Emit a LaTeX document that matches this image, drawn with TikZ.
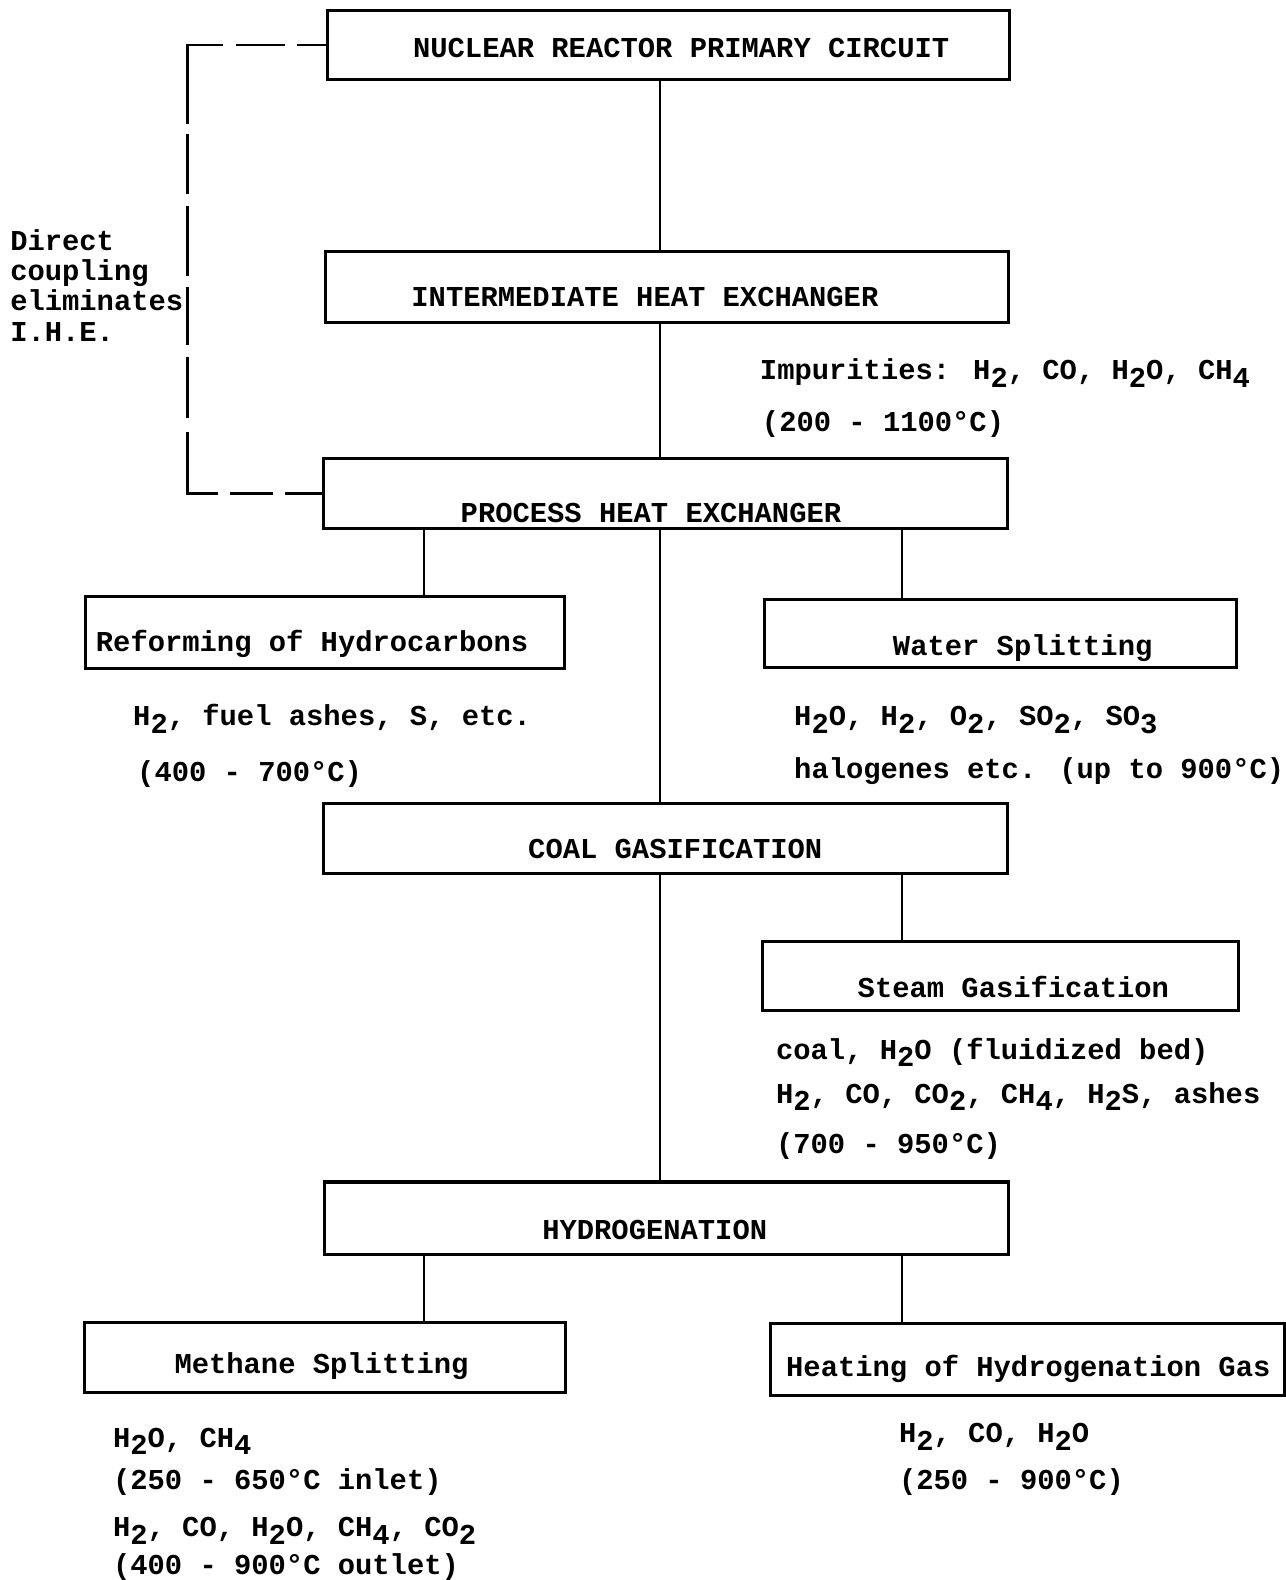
\documentclass[tikz,border=0pt]{standalone}
\usepackage{fontspec}
\setmainfont{Liberation Mono}
\newcommand{\dn}[1]{\raisebox{-0.26em}{#1}}
\begin{document}
\begin{tikzpicture}[x=1pt,y=-1pt,
  box/.style={draw,line width=3pt,inner sep=0pt},
  conn/.style={line width=2.2pt},
  dashline/.style={line width=2.6pt},
  txt/.style={inner sep=0pt,font=\fontsize{28.6}{30}\selectfont\bfseries},
]
\useasboundingbox (0,0) rectangle (1276,1568);
% boxes
\node[box,minimum width=677pt,minimum height=69pt] (nrpc) at (663.5,44.5) {};
\node[box,minimum width=678pt,minimum height=70pt] (ihe) at (662,285) {};
\node[box,minimum width=679pt,minimum height=69pt] (phe) at (660.5,489.5) {};
\node[box,minimum width=475pt,minimum height=71pt] (ref) at (322.5,627.5) {};
\node[box,minimum width=468pt,minimum height=67pt] (ws) at (993,628.5) {};
\node[box,minimum width=679pt,minimum height=70pt] (coal) at (660.5,832) {};
\node[box,minimum width=472pt,minimum height=69pt] (steam) at (993,968.5) {};
\node[box,minimum width=679pt,minimum height=72pt] (hyd) at (661.5,1209) {};
\node[box,minimum width=477pt,minimum height=70pt] (meth) at (322.5,1347) {};
\node[box,minimum width=510pt,minimum height=72pt] (heat) at (1020,1349) {};
% box titles
\node[txt,anchor=base] (tnrpc) at (676,57) {NUCLEAR REACTOR PRIMARY CIRCUIT};
\node[txt,anchor=base] (tihe) at (640,304) {INTERMEDIATE HEAT EXCHANGER};
\node[txt,anchor=base] (tphe) at (646,519) {PROCESS HEAT EXCHANGER};
\node[txt,anchor=base west] (tref) at (95,647) {Reforming of Hydrocarbons};
\node[txt,anchor=base west] (tws) at (886,651) {Water Splitting};
\node[txt,anchor=base west] (tcoal) at (524,852) {COAL GASIFICATION};
\node[txt,anchor=base west] (tsteam) at (851,990) {Steam Gasification};
\node[txt,anchor=base west] (thyd) at (538,1230) {HYDROGENATION};
\node[txt,anchor=base west] (tmeth) at (173,1363) {Methane Splitting};
\node[txt,anchor=base west] (theat) at (780,1366) {Heating of Hydrogenation Gas};
% connectors
\coordinate (cx) at (655,0);
\coordinate (lx) at (421,0);
\coordinate (rx) at (895,0);
\coordinate (dcx) at (186,0);
\draw[conn] (cx |- nrpc.south) -- (cx |- ihe.north);
\draw[conn] (cx |- ihe.south) -- (cx |- phe.north);
\draw[conn] (cx |- phe.south) -- (cx |- coal.north);
\draw[conn] (lx |- phe.south) -- (lx |- ref.north);
\draw[conn] (rx |- phe.south) -- (rx |- ws.north);
\draw[conn] (cx |- coal.south) -- (cx |- hyd.north);
\draw[conn] (rx |- coal.south) -- (rx |- steam.north);
\draw[conn] (lx |- hyd.south) -- (lx |- meth.north);
\draw[conn] (rx |- hyd.south) -- (rx |- heat.north);
\coordinate (tl) at (dcx |- nrpc.west);
\coordinate (bl) at (dcx |- phe.west);
\draw[dashline,dash pattern=on 29pt off 12pt on 48pt off 13pt on 38pt off 100pt] (nrpc.west) -- (tl);
\draw[dashline,line cap=rect,dash pattern=on 77pt off 13pt on 57pt off 14pt on 67pt off 14pt on 55pt off 14pt on 58pt off 17pt on 66pt off 100pt] (tl) -- (bl);
\draw[dashline,dash pattern=on 37pt off 12pt on 42pt off 12pt on 35pt off 100pt] (phe.west) -- (bl);
% side note
\node[txt,anchor=base west] (d1) at (10,249) {Direct};
\node[txt,anchor=base west] (d2) at (10,278) {coupling};
\node[txt,anchor=base west] (d3) at (10,308) {eliminates};
\node[txt,anchor=base west] (d4) at (10,339) {I.H.E.};
% labels
\node[txt,anchor=base west] (i1) at (754,377) {Impurities: H\dn{2}, CO, H\dn{2}O, CH\dn{4}};
\node[txt,anchor=base west] (i2) at (756,428) {(200 - 1100°C)};
\node[txt,anchor=base west] (r1) at (132,720) {H\dn{2}, fuel ashes, S, etc.};
\node[txt,anchor=base west] (r2) at (136,776) {(400 - 700°C)};
\node[txt,anchor=base west] (w1) at (788,720) {H\dn{2}O, H\dn{2}, O\dn{2}, SO\dn{2}, SO\dn{3}};
\node[txt,anchor=base west] (w2) at (788,773) {halogenes etc. (up to 900°C)};
\node[txt,anchor=base west] (s1) at (770,1051) {coal, H\dn{2}O (fluidized bed)};
\node[txt,anchor=base west] (s2) at (770,1095) {H\dn{2}, CO, CO\dn{2}, CH\dn{4}, H\dn{2}S, ashes};
\node[txt,anchor=base west] (s3) at (770,1145) {(700 - 950°C)};
\node[txt,anchor=base west] (m1) at (112,1436) {H\dn{2}O, CH\dn{4}};
\node[txt,anchor=base west] (m2) at (112,1478) {(250 - 650°C inlet)};
\node[txt,anchor=base west] (m3) at (112,1525) {H\dn{2}, CO, H\dn{2}O, CH\dn{4}, CO\dn{2}};
\node[txt,anchor=base west] (m4) at (112,1563) {(400 - 900°C outlet)};
\node[txt,anchor=base west] (h1) at (892,1432) {H\dn{2}, CO, H\dn{2}O};
\node[txt,anchor=base west] (h2) at (892,1478) {(250 - 900°C)};
\end{tikzpicture}
\end{document}
